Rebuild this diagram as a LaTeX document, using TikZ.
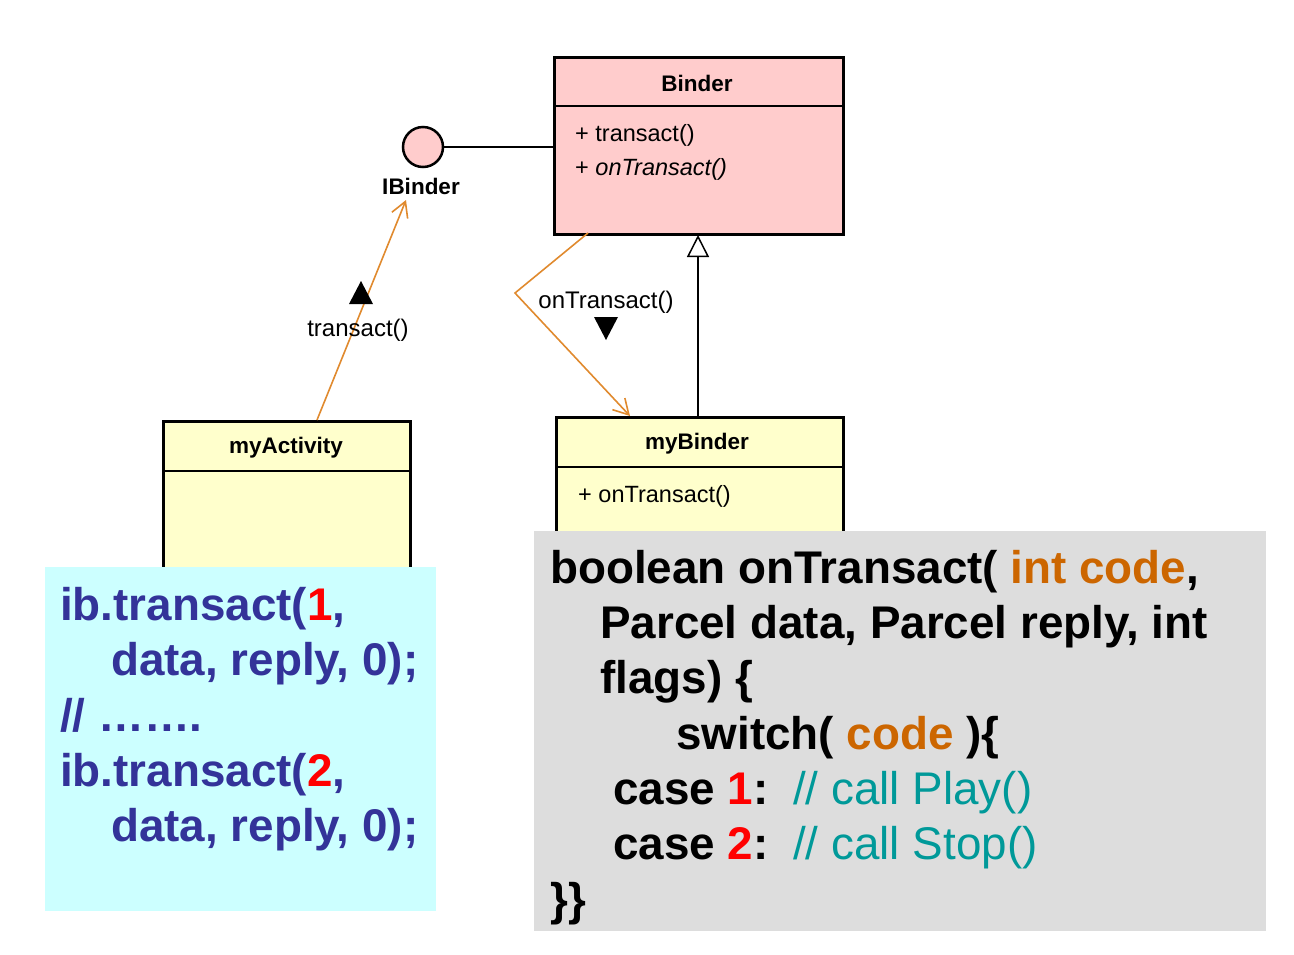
\documentclass[tikz,border=0pt]{standalone}
\usepackage{fontspec}
\setmainfont{Liberation Sans}
\usetikzlibrary{arrows.meta}
\definecolor{pinkfill}{HTML}{FFCCCC}
\definecolor{yellowfill}{HTML}{FFFFCC}
\definecolor{cyanfill}{HTML}{CCFFFF}
\definecolor{grayfill}{HTML}{DDDDDD}
\definecolor{navy}{HTML}{333399}
\definecolor{orangec}{HTML}{CC6600}
\definecolor{tealc}{HTML}{009999}
\definecolor{arrowor}{HTML}{E08A2E}
\definecolor{redc}{HTML}{FF0000}
\begin{document}
\begin{tikzpicture}[x=1pt,y=-1pt,
  umlbox/.style={draw=black, line width=3pt, anchor=north west, inner sep=0pt},
  umlname/.style={font=\fontsize{22.5}{26}\selectfont\bfseries, inner sep=0pt},
  umlop/.style={font=\fontsize{23.5}{26}\selectfont, inner sep=0pt, anchor=base west},
  umllbl/.style={font=\fontsize{24}{26}\selectfont, inner sep=0pt},
  divider/.style={line width=1.5pt},
  callarrow/.style={draw=arrowor, line width=1.6pt, line join=miter, -{Straight Barb[length=15pt,width=17pt,line width=1.6pt]}},
  codebig/.style={font=\fontsize{45.8}{55}\selectfont\bfseries, inner sep=0pt, anchor=base west},
  dirmark/.style={fill=black}
]
\useasboundingbox (0,0) rectangle (1294,954);

% ---- Binder class
\node[umlbox, fill=pinkfill, minimum width=289pt, minimum height=177pt] (binder) at (553,56) {};
\draw[divider] (553,106) -- (842,106);
\node[umlname] (bindername) at (697,83) {Binder};
\node[umlop] (binderop1) at (575,141) {+ transact()};
\node[umlop] (binderop2) at (575,175) {+ \textit{onTransact()}};

% ---- IBinder interface
\node[circle, draw=black, line width=2.5pt, fill=pinkfill, minimum size=40pt, inner sep=0pt] (ibcircle) at (423,147) {};
\node[umlname] (iblabel) at (421,186) {IBinder};
\draw[line width=1.5pt] (ibcircle.east) -- (binder.west |- ibcircle.east);

% ---- myActivity class
\node[umlbox, fill=yellowfill, minimum width=247pt, minimum height=170pt] (myact) at (162,420) {};
\draw[divider] (162,471) -- (409,471);
\node[umlname] (myactname) at (286,448) {myActivity};

% ---- myBinder class
\node[umlbox, fill=yellowfill, minimum width=287pt, minimum height=130pt] (mybinder) at (555,416) {};
\draw[divider] (555,467) -- (842,467);
\node[umlname] (mybindername) at (697,444) {myBinder};
\node[umlop] (mybinderop) at (578,502) {+ onTransact()};

% ---- inheritance
\coordinate (inhsrc) at (698,416);
\coordinate (inhtgt) at (698,235);
\draw[line width=1.5pt, -{Triangle[length=22pt,width=22pt,fill=white,line width=1.5pt]}] (inhsrc) -- (inhtgt);

% ---- transact() call
\coordinate (actsrc) at (317,420);
\coordinate (ibtgt) at (406,200);
\draw[callarrow] (actsrc) -- (ibtgt);
\fill[dirmark] (361,281) -- (373,304) -- (349,304) -- cycle;
\node[umllbl] (transactlbl) at (358,330) {transact()};

% ---- onTransact() call
\coordinate (bsrc) at (588,233);
\coordinate (bbend) at (515,293);
\coordinate (mybtgt) at (630,416);
\draw[callarrow] (bsrc) -- (bbend) -- (mybtgt);
\fill[dirmark] (594,317) -- (618,317) -- (606,340) -- cycle;
\node[umllbl] (ontransactlbl) at (606,302) {onTransact()};

% ---- client code box
\node[fill=cyanfill, anchor=north west, minimum width=391pt, minimum height=344pt, inner sep=0pt] (clientbox) at (45,567) {};
\begin{scope}[every node/.style={codebig, text=navy}]
\node (c1) at (60,620) {ib.transact(\textcolor{redc}{1},};
\node (c2) at (111,675) {data, reply, 0);};
\node (c3) at (60,731) {// …….};
\node (c4) at (60,786) {ib.transact(\textcolor{redc}{2},};
\node (c5) at (111,841) {data, reply, 0);};
\end{scope}

% ---- server code box
\node[fill=grayfill, anchor=north west, minimum width=732pt, minimum height=400pt, inner sep=0pt] (serverbox) at (534,531) {};
\begin{scope}[every node/.style={codebig, text=black}]
\node (s1) at (550,583) {boolean onTransact( \textcolor{orangec}{int code},};
\node (s2) at (600,638) {Parcel data, Parcel reply, int};
\node (s3) at (600,693) {flags) \{};
\node (s4) at (676,749) {switch( \textcolor{orangec}{code} )\{};
\node (s5) at (613,804) {case \textcolor{redc}{1}:};
\node (s6) at (613,859) {case \textcolor{redc}{2}:};
\node (s7) at (550,915) {\}\}};
\end{scope}
\node[codebig, font=\fontsize{45.8}{55}\selectfont, text=tealc] (s5c) at (793,804) {// call Play()};
\node[codebig, font=\fontsize{45.8}{55}\selectfont, text=tealc] (s6c) at (793,859) {// call Stop()};
\end{tikzpicture}
\end{document}
